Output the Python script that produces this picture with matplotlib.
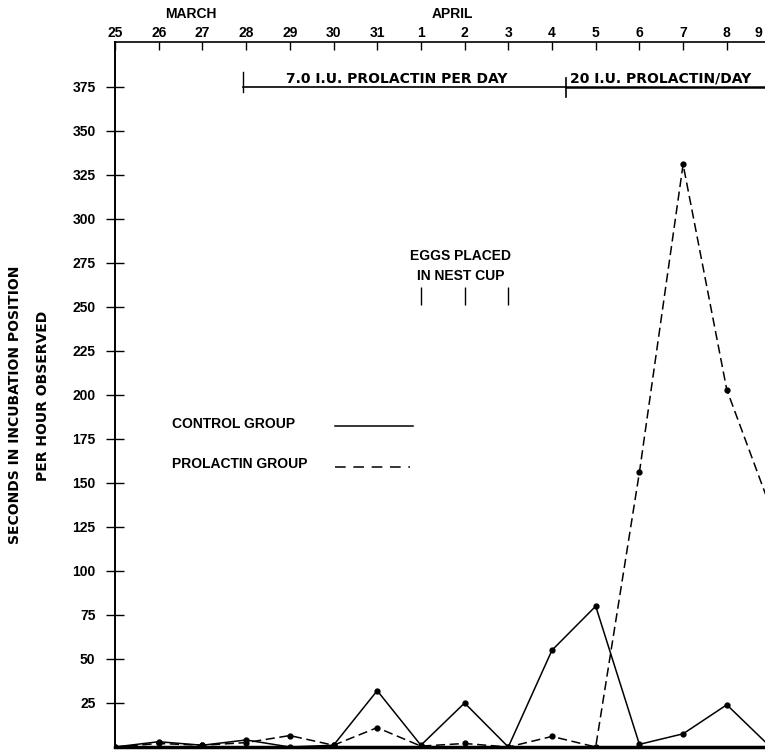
import matplotlib
matplotlib.use("Agg")
import matplotlib.pyplot as plt

# ---- data ----
days = ["25", "26", "27", "28", "29", "30", "31", "1", "2", "3", "4", "5", "6", "7", "8", "9"]
control = [0, 3, 1, 4, 0, 1, 32, 1, 25, 0, 55, 80, 1.5, 7.5, 24, 0]
prolactin = [0, 2, 1, 2.5, 6.5, 1, 11, 0.5, 2, 0, 6, 0, 156, 331, 203, 136]
yticks = list(range(25, 400, 25))
months = ["MARCH", "APRIL"]
eggs_days = [7, 8, 9]          # Apr 1, 2, 3
dose1_start, dose_change = 2.93, 10.32
dose_level = 375

plt.rcParams['font.family'] = ['Liberation Sans', 'DejaVu Sans']
plt.rcParams['font.weight'] = 'bold'
plt.rcParams['font.size'] = 10
wide = ['DejaVu Sans']

fig = plt.figure(figsize=(7.65, 7.5), dpi=100)
ax = fig.add_axes([115 / 765, 3 / 750, 650 / 765, 705 / 750])

x = list(range(len(days)))
ax.plot(x, control, color='black', lw=1.1, marker='o', ms=3.5)
ax.plot(x, prolactin, color='black', lw=1.1, ls=(0, (6, 3)), marker='o', ms=3.5)

ax.set_xlim(0, 650 / 43.7)
ax.set_ylim(0, 705 / 44 * 25)

# top axis
ax.xaxis.tick_top()
ax.set_xticks(x[:15])
ax.set_xticklabels(days[:15])
ax.tick_params(axis='x', direction='in', length=6, width=1, pad=1.5, top=True, bottom=False)
ax.annotate(days[15], xy=(1, 1), xycoords='axes fraction', xytext=(-7, 2),
            textcoords='offset pixels', ha='center', va='bottom', fontweight='bold')

# left axis
ax.set_yticks(yticks)
ax.set_yticklabels([str(v) for v in yticks])
ax.tick_params(axis='y', direction='inout', length=13, width=1, pad=7.5)

ax.spines['right'].set_visible(False)
ax.spines['left'].set_linewidth(1.4)
ax.spines['top'].set_linewidth(1.2)
ax.spines['bottom'].set_linewidth(2.5)

# month labels
ax.text(1.74, 414, months[0], ha='center', va='baseline', clip_on=False)
ax.text(7.73, 414, months[1], ha='center', va='baseline', clip_on=False)

# dose bars
ax.plot([dose1_start, dose_change], [dose_level, dose_level], color='black', lw=1.2)
ax.plot([dose1_start, dose1_start], [372.3, 383.7], color='black', lw=1)
ax.plot([dose_change, 15], [dose_level, dose_level], color='black', lw=1.8, clip_on=False)
ax.plot([dose_change, dose_change], [369.3, 380], color='black', lw=1.2)
ax.text(6.44, 377.3, "7.0 I.U. PROLACTIN PER DAY", ha='center', va='baseline', family=wide)
ax.text(10.41, 377.3, "20 I.U. PROLACTIN/DAY", ha='left', va='baseline', family=wide)

# eggs placed
ax.vlines(eggs_days, 251, 261.5, color='black', lw=1)
ax.text(7.9, 276.7, "EGGS PLACED", ha='center', va='baseline')
ax.text(7.92, 265.3, "IN NEST CUP", ha='center', va='baseline')

# legend
ax.text(1.30, 181.3, "CONTROL GROUP", ha='left', va='baseline')
ax.plot([5.03, 6.82], [182.4, 182.4], color='black', lw=1.1)
ax.text(1.30, 158.5, "PROLACTIN GROUP", ha='left', va='baseline')
ax.plot([5.03, 6.75], [159, 159], color='black', lw=1.1, ls=(0, (7, 5)))

# y labels
fig.text(15 / 765, 1 - 405 / 750, "SECONDS IN INCUBATION POSITION", rotation=90,
         ha='center', va='center', family=wide)
fig.text(43 / 765, 1 - 396 / 750, "PER HOUR OBSERVED", rotation=90,
         ha='center', va='center', family=wide)

fig.savefig("out.png", dpi=100)
